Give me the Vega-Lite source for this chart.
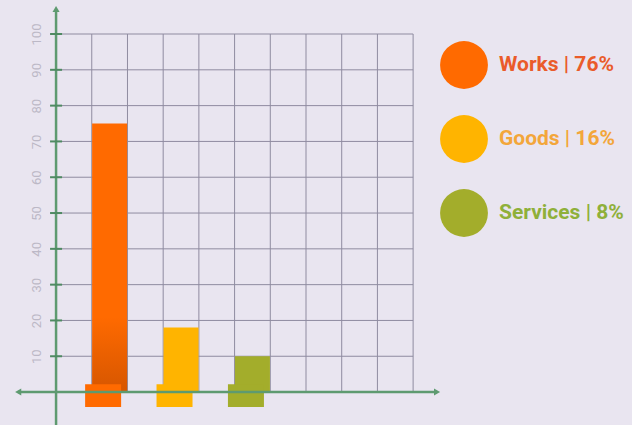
{
  "$schema": "https://vega.github.io/schema/vega-lite/v6.json",
  "width": 632,
  "height": 425,
  "autosize": {"type": "none"},
  "padding": 0,
  "background": "#e9e5f0",
  "config": {"view": {"stroke": null}},
  "datasets": {
    "bars": [
      {"cat": "Works | 76%", "pos": 1.5, "value": 75},
      {"cat": "Goods | 16%", "pos": 3.5, "value": 18},
      {"cat": "Services | 8%", "pos": 5.5, "value": 10}
    ],
    "levels": [{"v": 10}, {"v": 20}, {"v": 30}, {"v": 40}, {"v": 50}, {"v": 60}, {"v": 70}, {"v": 80}, {"v": 90}, {"v": 100}],
    "cols": [{"c": 1}, {"c": 2}, {"c": 3}, {"c": 4}, {"c": 5}, {"c": 6}, {"c": 7}, {"c": 8}, {"c": 9}, {"c": 10}],
    "one": [{"k": 1}]
  },
  "layer": [
    {
      "data": {"name": "levels"},
      "mark": {"type": "rule", "color": "#8f8ba0", "strokeWidth": 1},
      "encoding": {
        "y": {"field": "v", "type": "quantitative",
          "scale": {"domain": [-9.2, 109.5], "nice": false, "zero": false, "padding": 0},
          "axis": {"values": [10, 20, 30, 40, 50, 60, 70, 80, 90, 100], "domain": false, "ticks": false, "grid": false, "labelAngle": -90, "labelColor": "#bcb8c6", "labelFontSize": 13, "labelFont": "Roboto", "offset": -45, "labelPadding": 2, "title": null}},
        "x": {"datum": 0, "type": "quantitative", "scale": {"domain": [-1.57, 16.13], "nice": false, "zero": false, "padding": 0}, "axis": null},
        "x2": {"datum": 10}
      }
    },
    {
      "data": {"name": "cols"},
      "mark": {"type": "rule", "color": "#8f8ba0", "strokeWidth": 1},
      "encoding": {
        "x": {"field": "c", "type": "quantitative"},
        "y": {"datum": 0},
        "y2": {"datum": 100}
      }
    },
    {
      "data": {"name": "bars"},
      "mark": {"type": "bar", "size": 35},
      "encoding": {
        "x": {"field": "pos", "type": "quantitative"},
        "y": {"field": "value", "type": "quantitative"},
        "y2": {"datum": 0},
        "color": {"field": "cat", "type": "nominal",
          "scale": {"domain": ["Works | 76%", "Goods | 16%", "Services | 8%"], "range": ["#ff6a00", "#ffb400", "#a3ad2b"]},
          "legend": {"orient": "none", "legendX": 440, "legendY": 41, "title": null, "symbolType": "circle", "symbolSize": 2290, "symbolStrokeWidth": 0, "symbolOpacity": 1, "labelFontSize": 21, "labelFont": "Roboto", "labelFontWeight": "bold", "labelOffset": 11, "rowPadding": 26, "labelLimit": 300, "padding": 0,
            "encode": {
              "symbols": {"update": {"fill": {"signal": "datum.value === 'Works | 76%' ? '#f2631c' : datum.value === 'Goods | 16%' ? '#f9b012' : '#94a42f'"}}},
              "labels": {"update": {"fill": {"signal": "datum.value === 'Works | 76%' ? '#ea5b2a' : datum.value === 'Goods | 16%' ? '#f3a63a' : '#8fb03a'"}}}
            }}
        }
      }
    },
    {
      "data": {"name": "bars"},
      "transform": [{"filter": "datum.value > 50"}],
      "mark": {"type": "bar", "size": 35, "color": {"gradient": "linear", "x1": 0, "y1": 0, "x2": 0, "y2": 1, "stops": [{"offset": 0, "color": "rgba(120,40,0,0)"}, {"offset": 0.72, "color": "rgba(120,40,0,0)"}, {"offset": 1, "color": "rgba(120,40,0,0.3)"}]}},
      "encoding": {
        "x": {"field": "pos", "type": "quantitative"},
        "y": {"field": "value", "type": "quantitative"},
        "y2": {"datum": 0}
      }
    },
    {
      "data": {"name": "bars"},
      "mark": {"type": "bar", "size": 36, "xOffset": -6.5},
      "encoding": {
        "x": {"field": "pos", "type": "quantitative"},
        "y": {"datum": 2.2},
        "y2": {"datum": -4.2},
        "color": {"field": "cat", "type": "nominal"}
      }
    },
    {
      "data": {"name": "one"},
      "mark": {"type": "rule", "color": "#5e9a70", "strokeWidth": 2.5},
      "encoding": {
        "x": {"datum": 0},
        "y": {"datum": -9.5},
        "y2": {"datum": 106.5}
      }
    },
    {
      "data": {"name": "one"},
      "mark": {"type": "rule", "color": "#5e9a70", "strokeWidth": 2.5},
      "encoding": {
        "y": {"datum": 0},
        "x": {"datum": -1.06},
        "x2": {"datum": 10.67}
      }
    },
    {
      "data": {"name": "levels"},
      "mark": {"type": "tick", "orient": "horizontal", "size": 12, "thickness": 2, "color": "#4f8a62", "opacity": 1},
      "encoding": {
        "x": {"datum": 0, "type": "quantitative"},
        "y": {"field": "v", "type": "quantitative"}
      }
    },
    {
      "data": {"name": "one"},
      "mark": {"type": "point", "shape": "triangle-up", "filled": true, "size": 50, "color": "#5e9a70", "opacity": 1},
      "encoding": {"x": {"datum": 0}, "y": {"datum": 107}}
    },
    {
      "data": {"name": "one"},
      "mark": {"type": "point", "shape": "triangle-left", "filled": true, "size": 50, "color": "#5e9a70", "opacity": 1},
      "encoding": {"x": {"datum": -1.06}, "y": {"datum": 0}}
    },
    {
      "data": {"name": "one"},
      "mark": {"type": "point", "shape": "triangle-right", "filled": true, "size": 50, "color": "#5e9a70", "opacity": 1},
      "encoding": {"x": {"datum": 10.67}, "y": {"datum": 0}}
    }
  ]
}
